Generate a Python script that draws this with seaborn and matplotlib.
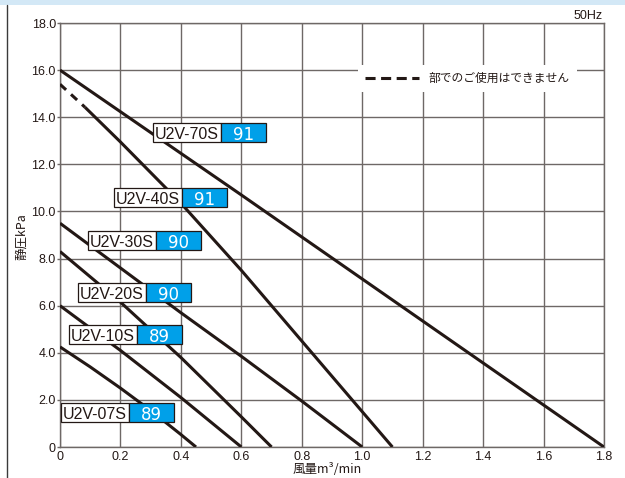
import numpy as np
import pandas as pd
import matplotlib
matplotlib.use('Agg')
import matplotlib.pyplot as plt
import seaborn as sns
from matplotlib.patches import Rectangle
from matplotlib.lines import Line2D

# -----------------------------------------------------------------------------
#Curves  (flow m3/min  vs  static pressure kPa)

models  = ['U2V-70S', 'U2V-40S', 'U2V-30S', 'U2V-20S', 'U2V-10S', 'U2V-07S']
numbers = ['91', '91', '90', '90', '89', '89']

flow_70s = [0.0, 0.6, 1.2, 1.8]
pres_70s = [16.0, 10.7, 5.35, 0.0]

flow_40s = [0.0, 0.083, 0.2, 0.4, 0.6, 0.8, 1.0, 1.1]
pres_40s = [15.4, 14.42, 12.95, 10.35, 7.5, 4.5, 1.5, 0.0]
ng_limit_40s = 0.083                        #dashed (not usable) below this flow

flow_30s = [0.0, 0.2, 0.4, 0.6, 0.8, 1.0]
pres_30s = [9.5, 7.6, 5.7, 3.85, 1.95, 0.0]

flow_20s = [0.0, 0.2, 0.4, 0.6, 0.7]
pres_20s = [8.3, 6.15, 3.8, 1.28, 0.0]

flow_10s = [0.0, 0.2, 0.4, 0.6]
pres_10s = [6.0, 4.1, 2.1, 0.0]

flow_07s = [0.0, 0.1, 0.2, 0.3, 0.4, 0.45]
pres_07s = [4.25, 3.4, 2.5, 1.55, 0.53, 0.0]

x_ticks = [0, 0.2, 0.4, 0.6, 0.8, 1.0, 1.2, 1.4, 1.6, 1.8]
x_labels = ['0', '0.2', '0.4', '0.6', '0.8', '1.0', '1.2', '1.4', '1.6', '1.8']
y_ticks = [0, 2, 4, 6, 8, 10, 12, 14, 16, 18]
y_labels = ['0', '2.0', '4.0', '6.0', '8.0', '10.0', '12.0', '14.0', '16.0', '18.0']

# -----------------------------------------------------------------------------
#Build one long table

curves = {'U2V-70S': (flow_70s, pres_70s), 'U2V-40S': (flow_40s, pres_40s),
          'U2V-30S': (flow_30s, pres_30s), 'U2V-20S': (flow_20s, pres_20s),
          'U2V-10S': (flow_10s, pres_10s), 'U2V-07S': (flow_07s, pres_07s)}
df = pd.concat([pd.DataFrame({'model': m, 'flow': f, 'pres': p})
                for m, (f, p) in curves.items()], ignore_index=True)

usable = df[~((df.model == 'U2V-40S') & (df.flow < ng_limit_40s))]
ng = df[(df.model == 'U2V-40S') & (df.flow <= ng_limit_40s)]

# -----------------------------------------------------------------------------
#Style

line_c = '#231815'
grid_c = '#6e6866'
blue = '#00a0e9'
lw = 2.2

sns.set_theme(style='white')
plt.rcParams['font.family'] = ['Liberation Sans', 'Noto Sans CJK JP', 'DejaVu Sans']
jp = ['Noto Sans CJK JP', 'DejaVu Sans']

fig = plt.figure(figsize=(6.25, 4.78), dpi=100)
ax = fig.add_axes([60/625, 1-447/478, 544/625, 424/478])

# -----------------------------------------------------------------------------
#Curves

sns.lineplot(data=usable, x='flow', y='pres', units='model', estimator=None,
             sort=False, color=line_c, lw=lw, ax=ax, zorder=3,
             solid_capstyle='butt', solid_joinstyle='round')
sns.lineplot(data=ng, x='flow', y='pres', estimator=None, sort=False,
             color=line_c, lw=lw, ax=ax, zorder=3, dashes=False,
             linestyle=(0, (2.7, 2.2)), dash_capstyle='butt')

# -----------------------------------------------------------------------------
#Axes, grid, ticks

ax.set_xlim(0, 1.8)
ax.set_ylim(0, 18)
ax.set_xticks(x_ticks)
ax.set_xticklabels(x_labels, fontsize=9, color='#231815')
ax.set_yticks(y_ticks)
ax.set_yticklabels(y_labels, fontsize=9, color='#231815')
ax.tick_params(axis='y', length=2.5, width=1, color=grid_c, pad=0.5, left=True)
ax.tick_params(axis='x', length=0, pad=3)
ax.grid(True, color=grid_c, lw=1)
ax.set_axisbelow(True)
for s in ax.spines.values():
    s.set_color(grid_c)
    s.set_linewidth(1)

ax.set_xlabel('風量m³/min', fontsize=9, family=jp, color='#231815')
ax.xaxis.set_label_coords(0.492, -0.037)
ax.set_ylabel('静圧kPa', fontsize=9, family=jp, color='#231815')
ax.yaxis.set_label_coords(-0.059, 0.495)

# -----------------------------------------------------------------------------
#Model label boxes (white name + blue number)

label_pos = [(0.308, 12.94), (0.179, 10.19), (0.093, 8.36),
             (0.060, 6.15), (0.030, 4.37), (0.003, 1.06)]
w_name, w_num, h_box = 0.225, 0.150, 0.80

for m, n, (x0, y0) in zip(models, numbers, label_pos):
    ax.add_patch(Rectangle((x0, y0), w_name, h_box, fc='white', ec=line_c,
                           lw=0.9, zorder=5))
    ax.add_patch(Rectangle((x0 + w_name, y0), w_num, h_box, fc=blue, ec=line_c,
                           lw=0.9, zorder=5))
    ax.text(x0 + w_name/2, y0 + h_box/2, m, ha='center', va='center_baseline',
            fontsize=11.5, color=line_c, zorder=6)
    ax.text(x0 + w_name + w_num/2, y0 + h_box/2, n, ha='center',
            va='center_baseline', fontsize=12, family='DejaVu Sans',
            color='white', zorder=6)

# -----------------------------------------------------------------------------
#Legend for the dashed part

h = Line2D([], [], color=line_c, lw=lw, linestyle=(0, (3.3, 1.8)),
           dash_capstyle='butt')
leg = ax.legend(handles=[h], labels=['部でのご使用はできません'],
                loc='center', bbox_to_anchor=(0.749, 0.869), frameon=True,
                fancybox=False, framealpha=1, edgecolor='white',
                handlelength=4.6, handletextpad=0.8, borderpad=0.6,
                prop={'family': jp, 'size': 8.5})
leg.get_frame().set_linewidth(0)
leg.set_zorder(4)
for t in leg.get_texts():
    t.set_color(line_c)

# -----------------------------------------------------------------------------
#Page decorations

fig.text(603/625, 1-16/478, '50Hz', ha='right', va='center', fontsize=9,
         color=line_c)
fig.patches.append(Rectangle((0, 1-5/478), 1, 5/478, transform=fig.transFigure,
                             fc='#d3e8f6', ec='none'))
fig.lines.append(Line2D([7/625, 7/625], [0, 1-5/478], transform=fig.transFigure,
                        color='#3a3a3a', lw=1))

fig.savefig('out.png', dpi=100)
